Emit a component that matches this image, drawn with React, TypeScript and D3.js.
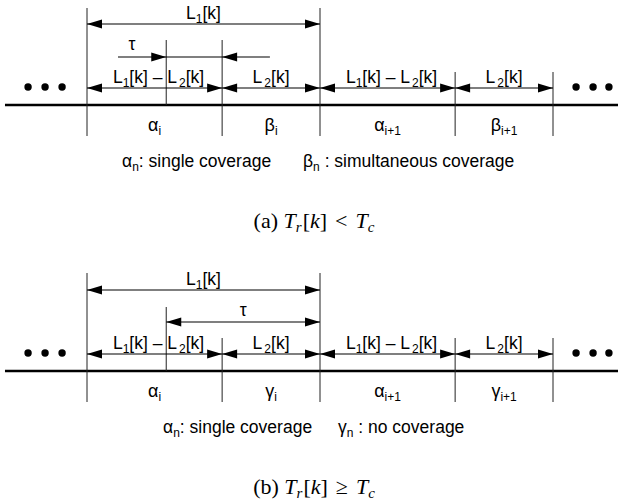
import React from 'react';
import * as d3 from 'd3';

// boundaries of the intervals, in units of L1[k]
const boundaries = [0, 0.58, 1.0, 1.58, 2.0];
const tauMark = 0.34;
const segSymbolsA = ['α', 'β', 'α', 'β'];
const segSymbolsB = ['α', 'γ', 'α', 'γ'];
const segSubs = ['i', 'i', 'i+1', 'i+1'];
const dotsLeft = [-0.253, -0.18, -0.107];
const dotsRight = [2.099, 2.172, 2.24];
const legendA = [['α', 'n', ': single coverage'], ['β', 'n', ' : simultaneous coverage']];
const legendB = [['α', 'n', ': single coverage'], ['γ', 'n', ' : no coverage']];

const W = 621, H = 500;
const sans = '"Liberation Sans", Arial, Helvetica, sans-serif';
const serif = '"Liberation Serif", "Times New Roman", serif';
const fs = 17.5, sub = 12;

const x = d3.scaleLinear().domain([0, 2]).range([87, 553]);

function Head({ tip, y, dir }) {
    // filled arrowhead, tip at (tip, y), dir = 1 points right, -1 points left
    const len = 15, hw = 4.5;
    const p = d3.path();
    p.moveTo(tip, y);
    p.lineTo(tip - dir * len, y - hw);
    p.lineTo(tip - dir * len, y + hw);
    p.closePath();
    return <path d={p.toString()} fill="#000" />;
}

function DArrow({ a, b, y }) {
    return (
        <g>
            <line x1={x(a)} x2={x(b)} y1={y} y2={y} stroke="#000" strokeWidth={1.2} />
            <Head tip={x(a)} y={y} dir={-1} />
            <Head tip={x(b)} y={y} dir={1} />
        </g>
    );
}

function Sub({ base, s, xx, y }) {
    return (
        <text x={xx} y={y} fontFamily={sans} fontSize={18} textAnchor="middle">
            {base}<tspan fontSize={sub} dy={4}>{s}</tspan>
        </text>
    );
}

function LDiff({ xx, y }) {
    return (
        <text x={xx} y={y} fontFamily={sans} fontSize={fs} textAnchor="middle">
            L<tspan fontSize={sub} dy={4}>1</tspan><tspan dy={-4}>[k] – L</tspan>
            <tspan fontSize={sub} dy={4} dx={2}>2</tspan><tspan dy={-4}>[k]</tspan>
        </text>
    );
}

function L2({ xx, y }) {
    return (
        <text x={xx} y={y} fontFamily={sans} fontSize={fs} textAnchor="middle">
            L<tspan fontSize={sub} dy={4} dx={2}>2</tspan><tspan dy={-4}>[k]</tspan>
        </text>
    );
}

function Panel({ oy, variant }) {
    const b = boundaries;
    const syms = variant === 'a' ? segSymbolsA : segSymbolsB;
    const legend = variant === 'a' ? legendA : legendB;
    const verticals = variant === 'a'
        ? [[b[0], 8, 136], [tauMark, 40, 105], [b[1], 40, 136], [b[2], 8, 136], [b[3], 72, 136], [b[4], 72, 136]]
        : [[b[0], 7, 136], [tauMark, 41, 105], [b[1], 72, 136], [b[2], 7, 136], [b[3], 72, 136], [b[4], 72, 136]];
    const legendX = variant === 'a' ? [122, 303] : [163, 338];
    return (
        <g transform={`translate(0,${oy})`}>
            {/* baseline */}
            <line x1={x(-0.352)} x2={x(2.279)} y1={105} y2={105} stroke="#000" strokeWidth={2.6} />
            {verticals.map((v, i) => (
                <line key={i} x1={x(v[0])} x2={x(v[0])} y1={v[1]} y2={v[2]} stroke="#222" strokeWidth={1} />
            ))}
            {[...dotsLeft, ...dotsRight].map((d, i) => (
                <circle key={i} cx={x(d)} cy={87} r={3.7} fill="#000" />
            ))}
            {/* L1[k] */}
            <DArrow a={b[0]} b={b[2]} y={24} />
            <text x={x((b[0] + b[2]) / 2)} y={19} fontFamily={sans} fontSize={fs} textAnchor="middle">
                L<tspan fontSize={sub} dy={4}>1</tspan><tspan dy={-4}>[k]</tspan>
            </text>
            {/* tau */}
            {variant === 'a' ? (
                <g>
                    <line x1={x(0.133)} x2={x(0.785)} y1={57} y2={57} stroke="#000" strokeWidth={1.2} />
                    <Head tip={x(tauMark)} y={57} dir={1} />
                    <Head tip={x(b[1])} y={57} dir={-1} />
                    <text x={132} y={50} fontFamily={sans} fontSize={fs} textAnchor="middle">τ</text>
                </g>
            ) : (
                <g>
                    <DArrow a={tauMark} b={b[2]} y={56} />
                    <text x={x((tauMark + b[2]) / 2)} y={50} fontFamily={sans} fontSize={fs} textAnchor="middle">τ</text>
                </g>
            )}
            {/* interval arrows */}
            {b.slice(0, 4).map((s, i) => (
                <DArrow key={i} a={s} b={b[i + 1]} y={88} />
            ))}
            {b.slice(0, 4).map((s, i) => {
                const mid = x((s + b[i + 1]) / 2);
                return i % 2 === 0
                    ? <LDiff key={i} xx={mid + 4} y={83} />
                    : <L2 key={i} xx={mid} y={83} />;
            })}
            {syms.map((s, i) => (
                <Sub key={i} base={s} s={segSubs[i]} xx={x((b[i] + b[i + 1]) / 2)} y={131} />
            ))}
            {legend.map((l, i) => (
                <text key={i} x={legendX[i]} y={167} fontFamily={sans} fontSize={17.5}>
                    {l[0]}<tspan fontSize={sub} dy={4}>{l[1]}</tspan><tspan dy={-4}>{l[2]}</tspan>
                </text>
            ))}
            <text x={314} y={228} fontFamily={serif} fontSize={22} textAnchor="middle">
                {variant === 'a' ? '(a) ' : '(b) '}
                <tspan fontStyle="italic">T</tspan>
                <tspan fontSize={15} fontStyle="italic" dy={4}>r</tspan>
                <tspan dy={-4} dx={1}>[</tspan><tspan fontStyle="italic">k</tspan>
                <tspan>]</tspan>
                <tspan dx={8}>{variant === 'a' ? '<' : '≥'}</tspan>
                <tspan fontStyle="italic" dx={8}>T</tspan>
                <tspan fontSize={15} fontStyle="italic" dy={4}>c</tspan>
            </text>
        </g>
    );
}

export default function App() {
    return (
        <svg width={W} height={H} style={{ position: 'absolute', left: 0, top: 0, background: '#fff' }}>
            <Panel oy={0} variant="a" />
            <Panel oy={266} variant="b" />
        </svg>
    );
}
